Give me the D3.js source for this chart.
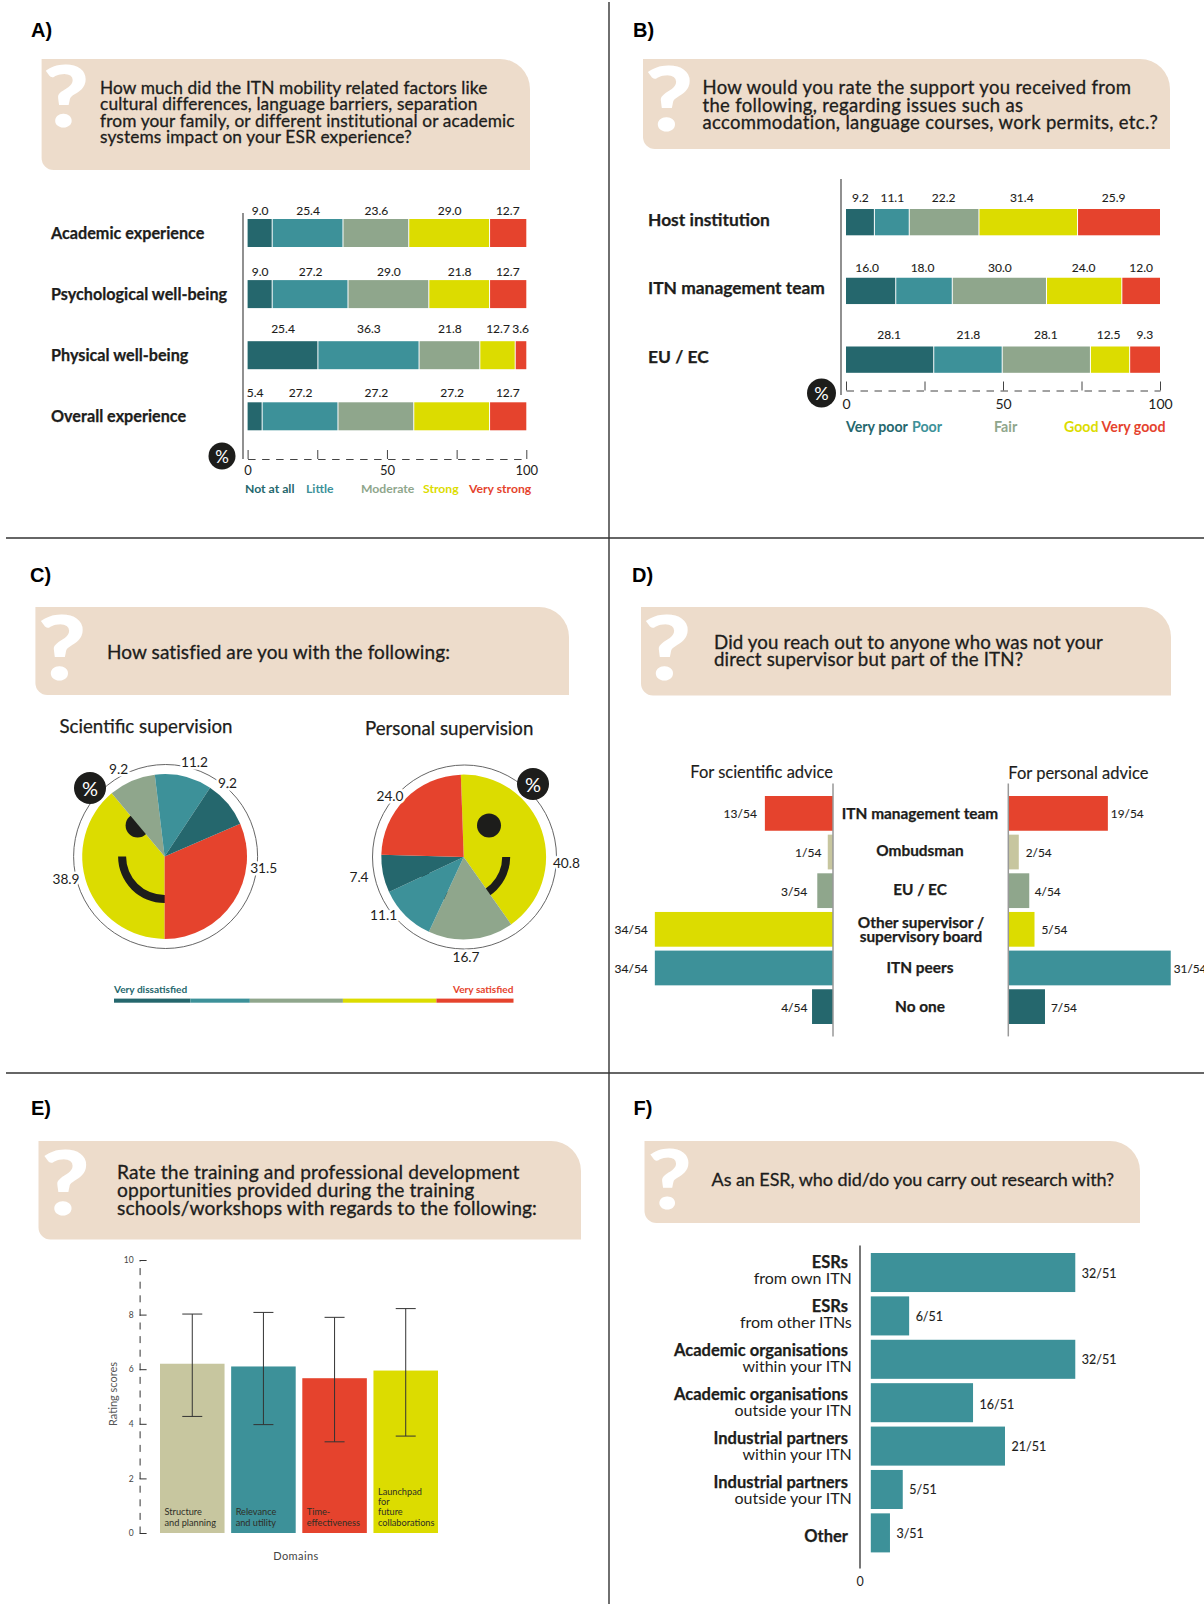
<!DOCTYPE html>
<html><head><meta charset="utf-8">
<script src="https://cdn.jsdelivr.net/npm/d3@7/dist/d3.min.js"></script>
<style>
html,body{margin:0;padding:0;background:#fff}
svg{display:block}
text{font-family:Lato,"Noto Sans",sans-serif;fill:#1d1d1b}
.tag{font-family:"Liberation Sans",Arial,sans-serif;font-weight:700;font-size:20px;fill:#000}
.q{font-size:18px;stroke:#1d1d1b;stroke-width:.3px}
.mark{font-family:Lato,sans-serif;font-weight:900;fill:#fff}
.cat{font-weight:700;font-size:16px;stroke:#1d1d1b;stroke-width:.25px}
.val{font-size:12px;stroke:#1d1d1b;stroke-width:.12px}
.leg{font-weight:700}
</style></head><body>
<svg id="c" width="1204" height="1604"></svg>
<script>
// ---------- data ----------
const colDark="#25676d",colTeal="#3d9199",colSage="#8fa68c",colYellow="#dcdc00",colRed="#e5432d",colTan="#c7c69f",colBox="#eddccb";
const fiveColors=[colDark,colTeal,colSage,colYellow,colRed];
const pctTicks=[0,25,50,75,100];

const aCategories=["Academic experience","Psychological well-being","Physical well-being","Overall experience"];
const aLevels=["Not at all","Little","Moderate","Strong","Very strong"];
const aAcademic=[9.0,25.4,23.6,29.0,12.7];
const aPsychological=[9.0,27.2,29.0,21.8,12.7];
const aPhysical=[25.4,36.3,21.8,12.7,3.6];
const aOverall=[5.4,27.2,27.2,27.2,12.7];

const bCategories=["Host institution","ITN management team","EU / EC"];
const bLevels=["Very poor","Poor","Fair","Good","Very good"];
const bHost=[9.2,11.1,22.2,31.4,25.9];
const bManagement=[16.0,18.0,30.0,24.0,12.0];
const bEu=[28.1,21.8,28.1,12.5,9.3];

const cScientific=[31.5,38.9,9.2,11.2,9.2];
const cScientificColors=[colRed,colYellow,colSage,colTeal,colDark];
const cPersonal=[40.8,16.7,11.1,7.4,24.0];
const cPersonalColors=[colYellow,colSage,colTeal,colDark,colRed];

const dCategories=["ITN management team","Ombudsman","EU / EC","Other supervisor /|supervisory board","ITN peers","No one"];
const dScientific=[13,1,3,34,34,4];
const dPersonal=[19,2,4,5,31,7];
const dColors=[colRed,colTan,colSage,colYellow,colTeal,colDark];
const dTotal=54;

const eDomains=["Structure|and planning","Relevance|and utility","Time-|effectiveness","Launchpad|for|future|collaborations"];
const eMeans=[6.2,6.1,5.67,5.95];
const eUpper=[8.02,8.08,7.9,8.22];
const eLower=[4.27,3.97,3.34,3.55];
const eColors=[colTan,colTeal,colRed,colYellow];
const eTicks=[0,2,4,6,8,10];

const fCategories=["ESRs|from own ITN","ESRs|from other ITNs","Academic organisations|within your ITN","Academic organisations|outside your ITN","Industrial partners|within your ITN","Industrial partners|outside your ITN","Other"];
const fCounts=[32,6,32,16,21,5,3];
const fTotal=51;

// ---------- helpers ----------
const svg=d3.select("#c");
const rad=d=>d*Math.PI/180;
function txt(g,x,y,s,cls,opt={}){
  const t=g.append("text").attr("x",x).attr("y",y).attr("dominant-baseline","central").text(s);
  if(cls)t.attr("class",cls);
  if(opt.anchor)t.attr("text-anchor",opt.anchor);
  if(opt.size)t.style("font-size",opt.size+"px");
  if(opt.fill)t.style("fill",opt.fill);
  if(opt.weight)t.style("font-weight",opt.weight);
  return t;
}
function question(tag,tagX,tagY,b,mark,lines,tx,ys,size,fitLine,fitWidth){
  txt(svg,tagX,tagY-1,tag,"tag");
  const [x0,y0,x1,y1]=b, R=30, r=12;
  svg.append("path").attr("fill",colBox).attr("d",
    `M${x0},${y0}H${x1-R}A${R},${R} 0 0 1 ${x1},${y0+R}V${y1}H${x0+r}A${r},${r} 0 0 1 ${x0},${y1-r}Z`);
  svg.append("text").attr("class","mark").attr("transform",`translate(${mark[0]},${mark[1]}) scale(1.17,1)`)
    .attr("text-anchor","middle").style("font-size",mark[2]+"px").text("?");
  const ts=lines.map((l,i)=>txt(svg,tx,ys[i]-1,l,"q",{size}));
  const ref=ts[fitLine], len=ref.node().getComputedTextLength();
  const sp=(fitWidth-len)/lines[fitLine].length;
  ts.forEach(t=>t.style("letter-spacing",sp+"px"));
}
function pctBadge(cx,cy,r,fs){
  svg.append("circle").attr("cx",cx).attr("cy",cy).attr("r",r).attr("fill","#1d1d1b");
  txt(svg,cx,cy,"%",null,{anchor:"middle",size:fs,fill:"#fff"});
}
function stackedPanel(o){
  const x=d3.scaleLinear().domain([0,100]).range(o.xr);
  const y=d3.scaleBand().domain(o.cats).range(o.yr).paddingInner(o.pad).paddingOuter(0);
  const keys=d3.range(5);
  const rows=o.rows.map((r,i)=>Object.assign({cat:o.cats[i]},r));
  const series=d3.stack().keys(keys)(rows);
  const g=svg.append("g");
  series.forEach((s,k)=>{
    g.selectAll(null).data(s).join("rect")
      .attr("x",d=>x(d[0])).attr("y",d=>y(d.data.cat))
      .attr("width",d=>{
        const end=k===4?100:d[1];
        return Math.max(0,x(end)-x(d[0])-(k===4?0:1));
      })
      .attr("height",y.bandwidth()).attr("fill",fiveColors[k]);
    s.forEach((d,i)=>{
      const nudge=(o.nudge[i]||[])[k]||0;
      txt(g,x((d[0]+d[1])/2)+nudge,y(d.data.cat)+o.valDy[i],d3.format(".1f")(o.rows[i][k]),"val",{anchor:"middle",size:o.valSize});
    });
  });
  o.cats.forEach((c,i)=>txt(g,o.catX,y(c)+y.bandwidth()/2+o.catDy,c,"cat",{size:o.catSize}));
  g.append("line").attr("x1",o.axX).attr("x2",o.axX).attr("y1",o.axY[0]).attr("y2",o.axY[1]).attr("stroke","#555").attr("stroke-width",1.3);
  const ax=g.append("g").attr("transform",`translate(0,${o.tickY})`)
    .call(d3.axisBottom(x).tickValues(pctTicks).tickSize(-9).tickSizeOuter(0).tickPadding(o.tickPad).tickFormat(d=>d%50===0?d:""));
  ax.select(".domain").attr("stroke","#444").attr("stroke-dasharray","7.5,6.5");
  ax.selectAll(".tick line").attr("stroke","#444");
  ax.selectAll("text").style("font-family","Lato").style("font-size",o.tickSize+"px").style("fill","#1d1d1b");
  o.levels.forEach((l,i)=>txt(g,o.legX[i],o.legY,l,"leg",{size:o.legSize,fill:fiveColors[i]}));
  pctBadge(o.badge[0],o.badge[1],o.badge[2],o.badge[3]);
}
function piePanel(o){
  const g=svg.append("g").attr("transform",`translate(${o.c[0]},${o.c[1]})`);
  g.append("circle").attr("cx",o.ringDx).attr("r",92).attr("fill","none").attr("stroke","#555").attr("stroke-width",.9);
  const a0=rad(o.start);
  const arcs=d3.pie().sort(null).startAngle(a0).endAngle(a0+2*Math.PI)(o.vals);
  const arc=d3.arc().innerRadius(0).outerRadius(82.4);
  const yi=o.colors.indexOf(colYellow);
  g.append("path").attr("d",arc(arcs[yi])).attr("fill",colYellow);
  g.append("circle").attr("cx",o.eye[0]).attr("cy",o.eye[1]).attr("r",12).attr("fill","#1d1d1b");
  g.append("path").attr("fill","#1d1d1b").attr("d",d3.arc()({innerRadius:38.5,outerRadius:46.5,startAngle:rad(90),endAngle:rad(270)}));
  arcs.forEach((a,i)=>{if(i!==yi)g.append("path").attr("d",arc(a)).attr("fill",o.colors[i]);});
  o.vals.forEach((v,i)=>{
    txt(svg,o.lab[i][0],o.lab[i][1],d3.format(".1f")(v),null,{anchor:"middle",size:13.7})
      .style("stroke","#fff").style("stroke-width","5px").style("paint-order","stroke").style("stroke-linejoin","round");
  });
  txt(svg,o.title[0],o.title[1]-1,o.title[2],null,{size:18.7}).style("stroke","#1d1d1b").style("stroke-width",".25px");
  pctBadge(o.badge[0],o.badge[1],16,20);
}

// ---------- frame lines ----------
[[609,2,609,1604],[6,538,1204,538],[6,1073,1204,1073]].forEach(l=>
  svg.append("line").attr("x1",l[0]).attr("y1",l[1]).attr("x2",l[2]).attr("y2",l[3]).attr("stroke","#333").attr("stroke-width",1.4));

// ---------- A ----------
question("A)",31,31,[41.6,59,530,170],[66,127,86],
 ["How much did the ITN mobility related factors like","cultural differences, language barriers, separation","from your family, or different institutional or academic","systems impact on your ESR experience?"],
 100,[88,104.5,121,137.5],17.3,2,414.7);
stackedPanel({cats:aCategories,rows:[aAcademic,aPsychological,aPhysical,aOverall],levels:aLevels,
 xr:[247.6,526.3],yr:[219,430.3],pad:1-28/61.1,catX:51,catDy:-.5,catSize:16.2,valDy:[-9,-9,-12.5,-10],valSize:12,nudge:[],
 axX:243,axY:[213,459],tickY:459,tickPad:7,tickSize:13,
 legX:[245,306,361,423,469],legY:488,legSize:12.2,badge:[222,456,13.5,17]});

// ---------- B ----------
question("B)",633,31,[643,59,1170,149],[669,131,90],
 ["How would you rate the support you received from","the following, regarding issues such as","accommodation, language courses, work permits, etc.?"],
 702.5,[88,105.5,123],18.5,2,456);
stackedPanel({cats:bCategories,rows:[bHost,bManagement,bEu],levels:bLevels,
 xr:[846,1160],yr:[209,372.8],pad:1-26.4/69,catX:648,catDy:-3,catSize:17.4,valDy:[-12,-10.5,-12],valSize:12,
 nudge:[[0,0,-1,-7,-5],[-4,-2,0,-1,0],[-1,0,-1,-2,0]],
 axX:841,axY:[179,395],tickY:390.5,tickPad:8.5,tickSize:14,
 legX:[846,912,994,1064,1101.6],legY:426,legSize:14.2,badge:[821.5,393,14.5,18]});

// ---------- C ----------
question("C)",30,576,[35.4,607,569,695],[62,680,90],["How satisfied are you with the following:"],107,[652.5],19,0,343);
piePanel({c:[164.6,856.5],ringDx:1,start:66.6,vals:cScientific,colors:cScientificColors,eye:[-27,-31],
 lab:[[263.7,867],[66,878],[118.6,768],[194.5,761],[227.5,782.5]],title:[59.5,727,"Scientific supervision"],badge:[90,788]});
piePanel({c:[463.7,857],ringDx:.8,start:-2,vals:cPersonal,colors:cPersonalColors,eye:[25.3,-31.5],
 lab:[[566.4,862.3],[466,956],[383.6,914],[359,876],[390,795]],title:[365,728.5,"Personal supervision"],badge:[533,784]});
const cLegendX=d3.scaleLinear().domain([0,100]).range([114,513.5]);
const cLegendStops=[0,19.1,34,57.3,80.7,100];
d3.pairs(cLegendStops).forEach((p,i)=>svg.append("rect").attr("x",cLegendX(p[0])).attr("y",998.6)
  .attr("width",cLegendX(p[1])-cLegendX(p[0])).attr("height",4.1).attr("fill",fiveColors[i]));
txt(svg,114,989,"Very dissatisfied","leg",{size:10.1,fill:colDark});
txt(svg,513.5,989,"Very satisfied","leg",{size:10.1,fill:colRed,anchor:"end"});

// ---------- D ----------
question("D)",632,576,[641,607,1171,695.5],[667,680,90],
 ["Did you reach out to anyone who was not your","direct supervisor but part of the ITN?"],714,[642.5,660.4],18.7,0,389);
(function(){
  const y=d3.scaleBand().domain(dCategories).range([796,1024]).paddingInner(1-34.7/38.6).paddingOuter(0);
  const xl=d3.scaleLinear().domain([0,dTotal]).range([833,833-54*5.24]);
  const xr=d3.scaleLinear().domain([0,dTotal]).range([1008.3,1008.3+54*5.24]);
  const gapL=[8,6.4,10,7,7,4.6], gapR=[3,7,5.5,7,3,6], catNudge=[0,-1.5,-1.5,0,0,0];
  const g=svg.append("g");
  g.selectAll(null).data(dScientific).join("rect").attr("x",d=>xl(d)).attr("y",(d,i)=>y(dCategories[i]))
    .attr("width",d=>xl(0)-xl(d)).attr("height",y.bandwidth()).attr("fill",(d,i)=>dColors[i]);
  g.selectAll(null).data(dPersonal).join("rect").attr("x",xr(0)).attr("y",(d,i)=>y(dCategories[i]))
    .attr("width",d=>xr(d)-xr(0)).attr("height",y.bandwidth()).attr("fill",(d,i)=>dColors[i]);
  dCategories.forEach((c,i)=>{
    const cy=y(c)+y.bandwidth()/2;
    txt(g,xl(dScientific[i])-gapL[i],cy+.5,`${dScientific[i]}/${dTotal}`,"val",{anchor:"end",size:12});
    txt(g,xr(dPersonal[i])+gapR[i],cy+.5,`${dPersonal[i]}/${dTotal}`,"val",{size:11.8});
    const parts=c.split("|");
    parts.forEach((p,j)=>txt(g,920+(parts.length>1?1:0),cy+catNudge[i]+(parts.length>1?(j-.5)*14.5:0)-.5,p,"cat",{anchor:"middle",size:15.4}));
  });
  [833,1008.3].forEach(X=>g.append("line").attr("x1",X).attr("x2",X).attr("y1",783.5).attr("y2",1036.4).attr("stroke","#999").attr("stroke-width",1.5));
  txt(g,833,771.5,"For scientific advice",null,{anchor:"end",size:16.5}).style("stroke","#1d1d1b").style("stroke-width",".15px");
  txt(g,1008.3,772.5,"For personal advice",null,{size:16.5}).style("stroke","#1d1d1b").style("stroke-width",".15px");
})();

// ---------- E ----------
question("E)",31,1109,[38.5,1141,581,1239.6],[65.5,1215,90],
 ["Rate the training and professional development","opportunities provided during the training","schools/workshops with regards to the following:"],117,[1172,1190,1208],19.2,2,420);
(function(){
  const y=d3.scaleLinear().domain([0,10]).range([1533,1260]);
  const x=d3.scaleBand().domain(eDomains).range([160,438]).paddingInner(1-64.5/71.1).paddingOuter(0);
  const g=svg.append("g");
  const ax=g.append("g").attr("transform","translate(139.6,0)")
    .call(d3.axisLeft(y).tickValues(eTicks).tickSize(-7).tickSizeOuter(0).tickPadding(6));
  ax.select(".domain").attr("stroke","#333").attr("stroke-dasharray","7,6.6");
  ax.selectAll(".tick line").attr("stroke","#333");
  ax.selectAll("text").style("font-family","Lato").style("font-size","8.5px").style("fill","#444");
  g.selectAll(null).data(eMeans).join("rect").attr("x",(d,i)=>x(eDomains[i])).attr("y",d=>y(d))
    .attr("width",x.bandwidth()).attr("height",d=>y(0)-y(d)).attr("fill",(d,i)=>eColors[i]);
  eDomains.forEach((c,i)=>{
    const cx=x(c)+x.bandwidth()/2, p=g.append("g").attr("stroke","#333").attr("stroke-width",1);
    p.append("line").attr("x1",cx).attr("x2",cx).attr("y1",y(eUpper[i])).attr("y2",y(eLower[i]));
    [eUpper[i],eLower[i]].forEach(v=>p.append("line").attr("x1",cx-10).attr("x2",cx+10).attr("y1",y(v)).attr("y2",y(v)));
    const ls=c.split("|");
    ls.forEach((l,j)=>txt(g,x(c)+4.5,1522-(ls.length-1-j)*10.1,l,null,{size:9.2,fill:"#2e2e26"}));
  });
  txt(g,0,0,"Rating scores",null,{anchor:"middle",size:11,fill:"#555"}).attr("transform","translate(112,1394) rotate(-90)");
  txt(g,296,1555.5,"Domains",null,{anchor:"middle",size:11,fill:"#444"}).style("letter-spacing",".4px");
})();

// ---------- F ----------
question("F)",633.5,1109,[644.5,1141,1140,1223],[669.5,1209,82],["As an ESR, who did/do you carry out research with?"],711.6,[1179.6],18,0,402.5);
(function(){
  const y=d3.scaleBand().domain(fCategories).range([1253,1552.4]).paddingInner(1-39/43.35).paddingOuter(0);
  const x=d3.scaleLinear().domain([0,fTotal]).range([870.8,870.8+51*6.39]);
  const g=svg.append("g");
  g.selectAll(null).data(fCounts).join("rect").attr("x",x(0)).attr("y",(d,i)=>y(fCategories[i]))
    .attr("width",d=>x(d)-x(0)).attr("height",y.bandwidth()).attr("fill",colTeal);
  fCategories.forEach((c,i)=>{
    const cy=y(c)+y.bandwidth()/2;
    txt(g,x(fCounts[i])+6.5,cy+.5+(i===3?1:0),`${fCounts[i]}/${fTotal}`,"val",{size:12.5});
    const ls=c.split("|"), ly=1270.5+i*44;
    if(ls.length>1){
      txt(g,848,ly-8.5,ls[0],"cat",{anchor:"end",size:16.5});
      txt(g,851.8,ly+7,ls[1],null,{anchor:"end",size:16});
    } else txt(g,848,1536,ls[0],"cat",{anchor:"end",size:16.5});
  });
  g.append("line").attr("x1",860).attr("x2",860).attr("y1",1245.4).attr("y2",1568.6).attr("stroke","#777").attr("stroke-width",2);
  txt(g,860,1581,"0",null,{anchor:"middle",size:12.5});
})();
</script>
</body></html>
